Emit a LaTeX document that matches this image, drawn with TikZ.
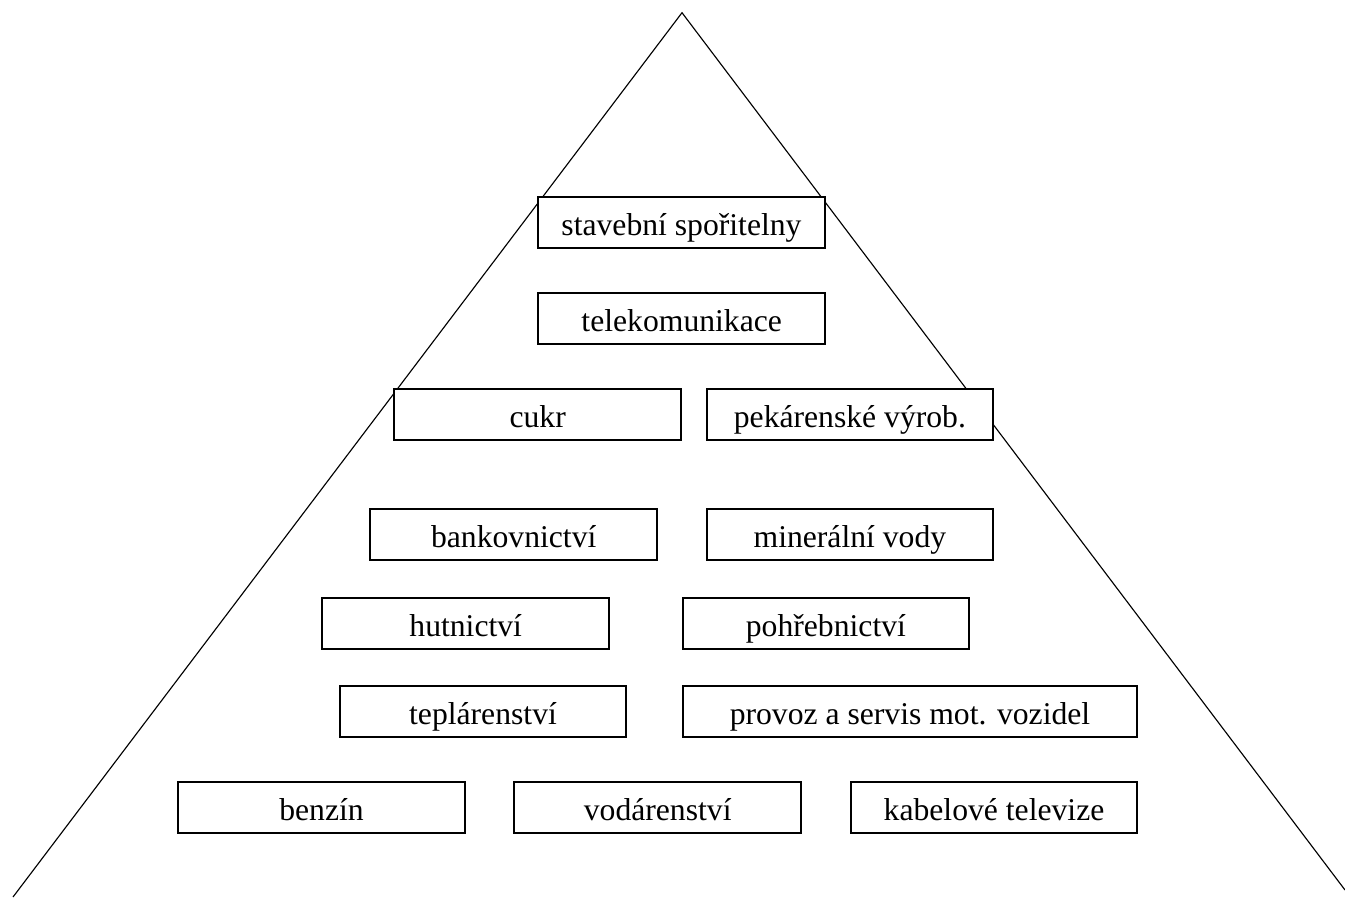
\documentclass[tikz,border=0pt]{standalone}
\usepackage{fontspec}
\setmainfont{Liberation Serif}
\usepackage{tikz}
\usetikzlibrary{positioning}

\begin{document}
\begin{tikzpicture}[
    x=0.3948pt, y=-0.3948pt,
    box/.style = {draw, fill=white, line width=0.8pt, inner sep=0pt,
      minimum width=113.2pt, minimum height=20pt,
      text height=10.3pt, text depth=0pt,
      font=\fontsize{12.5}{14}\selectfont},
    widebox/.style = {box, minimum width=179.5pt}
  ]
  \useasboundingbox (0,0) rectangle (1345,897);

  % pyramida
  \coordinate (apex) at (682,12.7);
  \coordinate (baseL) at (13,897);
  \coordinate (baseR) at (1345,890);
  \draw[line width=0.45pt] (baseL) -- (apex) -- (baseR);

  % horni patra
  \node[box] (stav) at (681.5,222.4) {stavební spořitelny};
  \node[box] (tele) at (681.7,318.2) {telekomunikace};

  % dvojice
  \node[box] (cukr) at (537.7,414.5) {cukr};
  \node[box] (peka) at (849.9,414.5) {pekárenské výrob.};
  \node[box] (bank) at (513.7,534.3) {bankovnictví};
  \node[box] (mine) at (849.9,534.3) {minerální vody};
  \node[box] (hutn) at (465.7,623.7) {hutnictví};
  \node[box] (pohr) at (825.9,623.7) {pohřebnictví};
  \node[box] (tepl) at (483.0,711.7) {teplárenství};
  \node[widebox] (prov) at (910.0,711.7) {provoz a servis mot. vozidel};

  % spodni rada
  \node[box] (benz) at (321.5,807.5) {benzín};
  \node[box] (voda) at (657.7,807.5) {vodárenství};
  \node[box] (kabe) at (994.0,807.5) {kabelové televize};
\end{tikzpicture}
\end{document}
